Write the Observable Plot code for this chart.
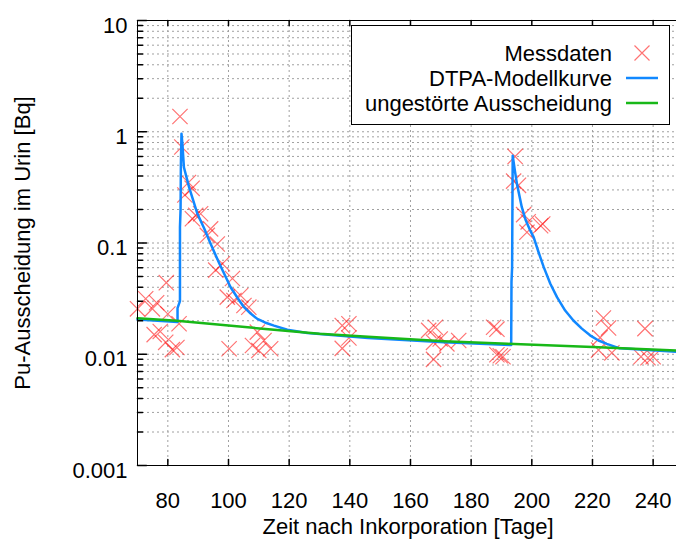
<!DOCTYPE html>
<html><head><meta charset="utf-8">
<script src="https://cdn.jsdelivr.net/npm/d3@7"></script>
<script src="https://cdn.jsdelivr.net/npm/@observablehq/plot@0.6"></script>
<style>body{margin:0;background:#fff}</style>
</head><body><div id="chart"></div>
<script>
// Messdaten
const messX = [70.0,72.7,74.9,76.3,79.5,80.0,83.7,75.5,77.5,79.3,81.5,83.0,
  84.0,84.6,86.8,88.0,85.6,88.1,89.2,90.8,93.0,94.1,96.3,98.0,95.8,101.3,99.6,101.8,104.0,105.1,106.7,100.2,109.5,111.7,110.0,113.9,107.9,
  137.5,139.7,139.7,137.5,166.0,168.2,167.6,169.8,167.6,172.0,175.9,187.4,188.5,188.5,189.6,190.5,
  194.5,194.0,195.6,197.3,198.8,198.4,202.9,203.6,
  223.6,225.3,222.5,222.0,226.4,237.3,236.0,238.3,240.0];
const messY = [0.0256,0.0315,0.0256,0.029,0.044,0.023,0.0188,0.0150,0.0160,0.0128,0.0110,0.0115,
  1.37,0.73,0.35,0.31,0.27,0.165,0.177,0.183,0.117,0.134,0.098,0.065,0.057,0.048,0.0326,0.0304,0.0337,0.0274,0.0265,0.0112,0.0158,0.0133,0.0108,0.0112,0.0120,
  0.0181,0.0188,0.0140,0.0113,0.0164,0.0175,0.0128,0.0137,0.0090,0.0124,0.0133,0.0175,0.0168,0.0099,0.0097,0.0095,
  0.60,0.36,0.33,0.18,0.155,0.125,0.143,0.148,
  0.0212,0.0172,0.0141,0.0109,0.0103,0.0170,0.0095,0.0093,0.0095];
// DTPA-Modellkurve
const blueX = [70,83.2,83.2,84.0,84.0,84.2,84.3,84.5,84.8,85.3,87.0,89.75,92.0,94.0,96.9,100.7,103.0,105.1,107.3,109.5,112.0,115.0,119.4,126,146,171,193.2,193.3,193.5,193.7,194.4,195.1,196.7,198.0,199.5,200.6,202.2,203.9,206.1,208.3,211.0,213.7,216.5,219.2,222.0,224.7,229,247.7];
const blueY = [0.0205,0.0195,0.026,0.03,0.139,0.2,0.5,0.96,0.78,0.48,0.318,0.183,0.135,0.100,0.066,0.040,0.032,0.0265,0.0232,0.0208,0.0193,0.0181,0.0166,0.0155,0.0140,0.0128,0.0121,0.045,0.06,0.61,0.45,0.34,0.21,0.16,0.129,0.113,0.083,0.061,0.043,0.0326,0.0247,0.0201,0.0170,0.0148,0.0133,0.0124,0.0113,0.0105];
// ungestörte Ausscheidung
const greenX = [70,83,100,115,130,146,171,192,220,247.7];
const greenY = [0.0211,0.0200,0.0181,0.0166,0.0153,0.0144,0.0131,0.0124,0.0116,0.0108];

const xTicks = [80,100,120,140,160,180,200,220,240];
const yTicks = [0.001,0.01,0.1,1,10];
const yMinor = [0.002,0.003,0.004,0.005,0.006,0.007,0.008,0.009,
  0.02,0.03,0.04,0.05,0.06,0.07,0.08,0.09,
  0.2,0.3,0.4,0.5,0.6,0.7,0.8,0.9,
  2,3,4,5,6,7,8,9];
const legendLabels = ["Messdaten","DTPA-Modellkurve","ungestörte Ausscheidung"];
const xTitle = "Zeit nach Inkorporation [Tage]";
const yTitle = "Pu-Ausscheidung im Urin [Bq]";

const mess = messX.map((x,i)=>({x, y: messY[i]}));
const blue = blueX.map((x,i)=>({x, y: blueY[i]}));
const green = greenX.map((x,i)=>({x, y: greenY[i]}));

const tickShape = {draw(ctx, l){ ctx.moveTo(0,0); ctx.lineTo(0,-l); }};
const FONT = "'Liberation Sans', Arial, sans-serif";
const RED = "#ff0000", BLUE = "#1188ff", GREEN = "#18b818";
const grid = {stroke:"#a0a0a0", strokeOpacity:1, strokeDasharray:"2,3", strokeWidth:1};

const plot = Plot.plot({
  width: 676, height: 545,
  marginLeft: 137, marginRight: 0, marginTop: 20, marginBottom: 80,
  style: {fontSize: "22px", fontFamily: FONT, background: "white", color: "black", overflow: "visible"},
  x: {domain: [70, 247.7], label: null},
  y: {type: "log", domain: [0.001, 10], label: null},
  marks: [
    Plot.gridX(xTicks, grid),
    Plot.gridY(yMinor.concat(yTicks), grid),
    Plot.dot(mess, {x:"x", y:"y", symbol:"times", r:7, stroke:RED, strokeOpacity:0.55, strokeWidth:1.2}),
    Plot.line(blue, {x:"x", y:"y", stroke:BLUE, strokeWidth:2.5}),
    Plot.line(green, {x:"x", y:"y", stroke:GREEN, strokeWidth:2.5}),
    Plot.ruleX([70], {stroke:"black"}),
    Plot.ruleY([0.001, 10], {stroke:"black"}),
    Plot.vector(xTicks, {x:d=>d, frameAnchor:"bottom", length:6, rotate:0, anchor:"start", shape:tickShape, stroke:"black"}),
    Plot.vector(xTicks, {x:d=>d, frameAnchor:"top", length:5, rotate:180, anchor:"start", shape:tickShape, stroke:"black"}),
    Plot.vector(yTicks, {y:d=>d, frameAnchor:"left", length:9, rotate:90, anchor:"start", shape:tickShape, stroke:"black"}),
    Plot.vector(yMinor, {y:d=>d, frameAnchor:"left", length:5, rotate:90, anchor:"start", shape:tickShape, stroke:"black"}),
    Plot.axisX(xTicks, {tickSize:0, tickPadding:27, label:null}),
    Plot.axisY(yTicks, {tickSize:0, tickPadding:10, tickFormat:d=>String(d), dy:5, label:null})
  ]
});

const svg = d3.select(plot);
// axis titles
svg.append("text").attr("x", 408).attr("y", 534).attr("text-anchor","middle")
  .attr("font-size", 22).attr("font-family", FONT).attr("fill","black").text(xTitle);
svg.append("text").attr("transform","translate(30,243) rotate(-90)").attr("text-anchor","middle")
  .attr("font-size", 22).attr("font-family", FONT).attr("fill","black").text(yTitle);
// legend
const lg = svg.append("g");
lg.append("rect").attr("x",351.5).attr("y",25.5).attr("width",318).attr("height",99)
  .attr("fill","white").attr("stroke","black");
const rows = [53, 78, 103];
legendLabels.forEach((t,i)=>{
  lg.append("text").attr("x",612).attr("y",rows[i]+8).attr("text-anchor","end")
    .attr("font-size",22).attr("font-family",FONT).attr("fill","black").text(t);
});
lg.append("path").attr("d",`M${642-7.5},${rows[0]-7.5}L${642+7.5},${rows[0]+7.5}M${642-7.5},${rows[0]+7.5}L${642+7.5},${rows[0]-7.5}`)
  .attr("stroke",RED).attr("stroke-opacity",0.55).attr("stroke-width",1.2).attr("fill","none");
lg.append("line").attr("x1",626).attr("x2",658).attr("y1",rows[1]).attr("y2",rows[1]).attr("stroke",BLUE).attr("stroke-width",2.5);
lg.append("line").attr("x1",626).attr("x2",658).attr("y1",rows[2]).attr("y2",rows[2]).attr("stroke",GREEN).attr("stroke-width",2.5);

document.getElementById("chart").appendChild(plot);
</script>
</body></html>
